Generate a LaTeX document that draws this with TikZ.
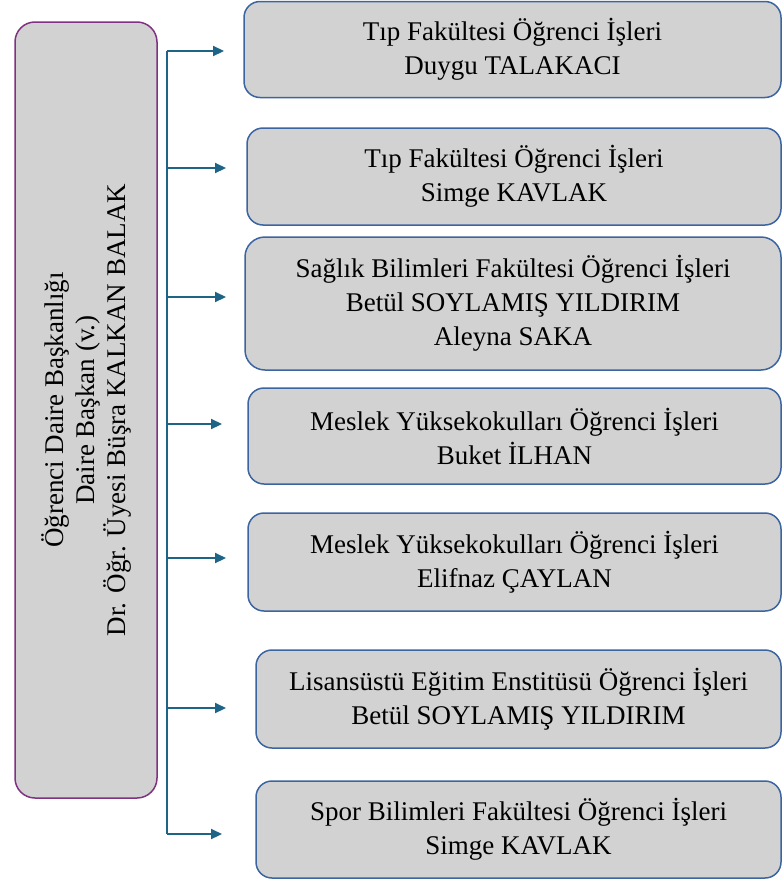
\documentclass[tikz,border=0pt]{standalone}
\usepackage{fontspec}
\setmainfont{Liberation Serif}
\usetikzlibrary{arrows.meta}
\definecolor{boxfill}{RGB}{210,210,210}
\definecolor{purpleline}{RGB}{128,50,130}
\definecolor{blueline}{RGB}{60,100,160}
\definecolor{tealline}{RGB}{30,100,135}
\tikzset{
  rbox/.style={draw=blueline, line width=1.5pt, fill=boxfill, rounded corners=16pt,
    align=center, inner sep=0pt, font=\fontsize{27pt}{34pt}\selectfont},
  headbox/.style={draw=purpleline, line width=1.5pt, fill=boxfill, rounded corners=20pt,
    align=center, inner sep=0pt, rotate=90, minimum width=776pt, minimum height=142pt,
    font=\fontsize{27pt}{31pt}\selectfont},
  conn/.style={draw=tealline, line width=2.2pt},
  arr/.style={conn, -{Triangle[length=11pt,width=10pt]}}
}
\begin{document}
\begin{tikzpicture}[x=1pt,y=-1pt]
\useasboundingbox (0,0) rectangle (782,881);
\node[headbox] (head) at (86,410) {Öğrenci Daire Başkanlığı\\Daire Başkan (v.)\\Dr. Öğr. Üyesi Büşra KALKAN BALAK};

\node[rbox, minimum width=537pt, minimum height=96pt] (b1) at (512.5,49.5) {Tıp Fakültesi Öğrenci İşleri\\Duygu TALAKACI};
\node[rbox, minimum width=534pt, minimum height=97pt] (b2) at (514,176.5) {Tıp Fakültesi Öğrenci İşleri\\Simge KAVLAK};
\node[rbox, minimum width=536pt, minimum height=133pt, rounded corners=20pt] (b3) at (513,303.5) {Sağlık Bilimleri Fakültesi Öğrenci İşleri\\Betül SOYLAMIŞ YILDIRIM\\Aleyna SAKA};
\node[rbox, minimum width=533pt, minimum height=96pt] (b4) at (514.5,436) {Meslek Yüksekokulları Öğrenci İşleri\\Buket İLHAN};
\node[rbox, minimum width=533pt, minimum height=98pt] (b5) at (514.5,562) {Meslek Yüksekokulları Öğrenci İşleri\\Elifnaz ÇAYLAN};
\node[rbox, minimum width=525pt, minimum height=98pt] (b6) at (518.5,699) {Lisansüstü Eğitim Enstitüsü Öğrenci İşleri\\Betül SOYLAMIŞ YILDIRIM};
\node[rbox, minimum width=525pt, minimum height=97pt] (b7) at (518.5,829.5) {Spor Bilimleri Fakültesi Öğrenci İşleri\\Simge KAVLAK};

\coordinate (t1) at (167,51);
\coordinate (t7) at (167,834);
\coordinate (a1) at (224,51);
\coordinate (s2) at (168,168);
\coordinate (a2) at (226,168);
\coordinate (s3) at (168,297);
\coordinate (a3) at (226,297);
\coordinate (s4) at (166,424);
\coordinate (a4) at (222,424);
\coordinate (s5) at (168,558);
\coordinate (a5) at (226,558);
\coordinate (s6) at (168,708);
\coordinate (a6) at (226,708);
\coordinate (a7) at (222,834);

\draw[conn] (t1) -- (t7);
\draw[arr] (t1) -- (a1);
\draw[arr] (s2) -- (a2);
\draw[arr] (s3) -- (a3);
\draw[arr] (s4) -- (a4);
\draw[arr] (s5) -- (a5);
\draw[arr] (s6) -- (a6);
\draw[arr] (t7) -- (a7);
\end{tikzpicture}
\end{document}
